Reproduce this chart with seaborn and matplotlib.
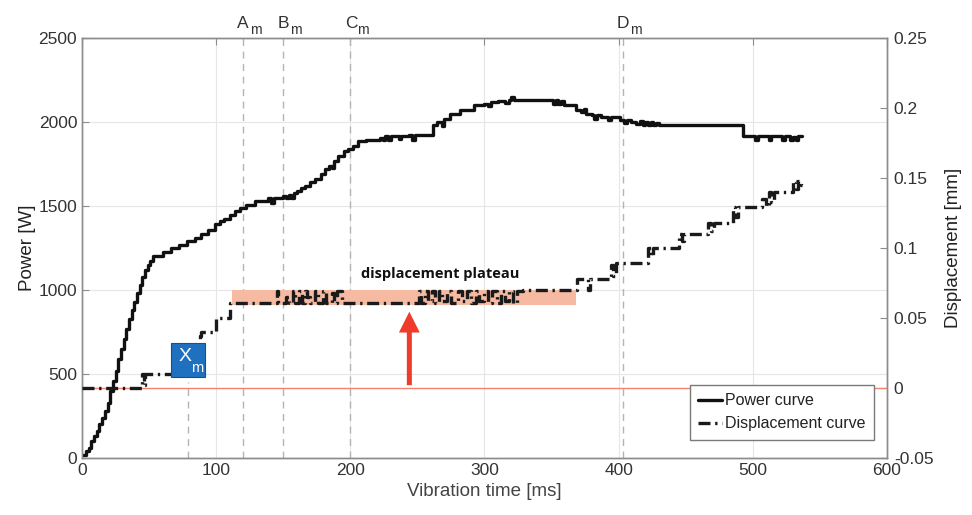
import numpy as np
import matplotlib
matplotlib.use('Agg')
from matplotlib import pyplot as plt
import seaborn as sns

'''Power and displacement curves versus vibration time, with marker instants.'''

# power curve [ms], [W]
power_time = [0, 3, 5, 7, 9, 11, 13, 15, 17, 19,
              21, 23, 25, 27, 29, 31, 33, 35, 37, 39,
              41, 43, 45, 47, 49, 51, 53, 60, 66, 72,
              78, 84, 89, 94, 99, 103, 106, 110, 114, 118,
              122, 129, 139, 141, 143, 150, 152, 154, 156, 158,
              160, 163, 166, 170, 174, 178, 181, 184, 186, 188,
              191, 195, 198, 202, 206, 212, 222, 224, 226, 228,
              230, 236, 238, 244, 246, 248, 260, 262, 265, 268,
              270, 274, 282, 292, 300, 303, 305, 310, 315, 318,
              320, 322, 349, 351, 353, 355, 357, 359, 368, 372,
              374, 376, 380, 382, 384, 387, 392, 394, 401, 404,
              406, 409, 413, 416, 418, 420, 422, 424, 426, 428,
              430, 493, 502, 504, 512, 514, 522, 524, 528, 530,
              532, 534, 537]
power_watts = [15, 40, 60, 100, 130, 160, 200, 240, 280, 330,
               400, 460, 520, 590, 650, 710, 770, 830, 880, 930,
               980, 1030, 1080, 1120, 1150, 1175, 1200, 1225, 1250, 1270,
               1290, 1310, 1335, 1360, 1390, 1410, 1420, 1445, 1470, 1490,
               1505, 1530, 1545, 1520, 1550, 1560, 1545, 1565, 1550, 1575,
               1590, 1605, 1620, 1640, 1660, 1690, 1720, 1740, 1725, 1770,
               1800, 1825, 1840, 1860, 1885, 1895, 1905, 1890, 1915, 1895,
               1915, 1900, 1915, 1920, 1895, 1920, 1920, 1980, 2000, 1975,
               2020, 2050, 2070, 2100, 2110, 2095, 2120, 2125, 2115, 2130,
               2150, 2130, 2130, 2110, 2130, 2110, 2125, 2100, 2070, 2060,
               2075, 2050, 2040, 2020, 2040, 2030, 2010, 2030, 2012, 1995,
               2012, 2000, 1990, 2005, 1980, 2000, 1980, 2000, 1980, 1995,
               1980, 1915, 1890, 1915, 1890, 1915, 1890, 1915, 1890, 1910,
               1890, 1915, 1915]

# displacement curve [ms], [mm]
disp_time = [0, 44, 45, 46, 47, 68, 75, 82, 88, 89,
             98, 100, 110, 143, 145, 146, 150, 152, 154, 157,
             159, 162, 164, 166, 168, 170, 174, 176, 180, 182,
             186, 188, 190, 194, 249, 251, 253, 256, 258, 261,
             263, 266, 268, 272, 275, 280, 283, 287, 290, 294,
             296, 300, 303, 306, 309, 312, 315, 318, 321, 324,
             329, 369, 377, 379, 394, 396, 398, 422, 424, 426,
             445, 447, 449, 467, 469, 471, 485, 487, 489, 507,
             510, 512, 514, 516, 530, 532, 534, 536, 537]
disp_mm = [0.0, 0.0, 0.01, 0.002, 0.01, 0.01, 0.02, 0.03, 0.037, 0.04,
           0.04, 0.05, 0.061, 0.061, 0.069, 0.061, 0.061, 0.065, 0.061, 0.069,
           0.061, 0.069, 0.061, 0.069, 0.065, 0.061, 0.069, 0.061, 0.069, 0.061,
           0.068, 0.061, 0.069, 0.061, 0.061, 0.069, 0.061, 0.069, 0.062, 0.069,
           0.061, 0.069, 0.062, 0.069, 0.061, 0.069, 0.062, 0.069, 0.061, 0.069,
           0.062, 0.069, 0.061, 0.069, 0.061, 0.069, 0.062, 0.069, 0.061, 0.069,
           0.07, 0.078, 0.07, 0.078, 0.088, 0.08, 0.089, 0.1, 0.094, 0.1,
           0.11, 0.105, 0.11, 0.118, 0.112, 0.118, 0.129, 0.122, 0.129, 0.135,
           0.13, 0.14, 0.133, 0.14, 0.148, 0.142, 0.148, 0.145, 0.148]

# marker instants [ms]
marker_names = ['A', 'B', 'C', 'D']
marker_times = [120, 150, 200, 403]
xm_time = 79

plateau_start, plateau_end = 112, 368
plateau_low, plateau_high = 0.059, 0.07

sns.set_style('white')
plt.rcParams['font.family'] = ['Liberation Sans', 'DejaVu Sans']

spine_col = '#8c8c8c'
text_col = '#333333'

fig = plt.figure(figsize=(9.72, 5.15), dpi=100)
ax = fig.add_axes([0.0844, 0.1107, 0.828, 0.8155])
ax2 = ax.twinx()

# reference lines, labels above the frame as letter + subscript m
for name, t in zip(marker_names, marker_times):
	ax.axvline(t, color='#b4b4b4', ls=(0, (5, 4)), lw=1, zorder=1)
	ax.annotate(name, xy=(t, 1.0), xycoords=ax.get_xaxis_transform(),
	            xytext=(-4, 5), textcoords='offset points', ha='left', va='bottom',
	            fontsize=12.5, color=text_col)
	ax.annotate('m', xy=(t, 1.0), xycoords=ax.get_xaxis_transform(),
	            xytext=(5, 1), textcoords='offset points', ha='left', va='bottom',
	            fontsize=10, color=text_col)
ax.plot([xm_time, xm_time], [0, 450], color='#b4b4b4', ls=(0, (5, 4)), lw=1, zorder=1)

sns.lineplot(x=power_time, y=power_watts, ax=ax, color='#111111', lw=2.4,
             drawstyle='steps-post', errorbar=None, zorder=3)
power_line = ax.lines[-1]

ax.set_xlim(0, 600)
ax.set_ylim(0, 2500)
ax.set_xticks(np.arange(0, 601, 100))
ax.set_yticks(np.arange(0, 2501, 500))
ax.grid(True, color='#e6e6e6', lw=0.8)
ax.set_axisbelow(True)
ax.set_xlabel('Vibration time [ms]', fontsize=13.5, color='#444444', labelpad=4)
ax.set_ylabel('Power [W]', fontsize=13.5, color='#222222', labelpad=2)

# displacement side
ax2.axhline(0, color='#f2836f', lw=1, zorder=1)
ax2.fill_between([plateau_start, plateau_end], plateau_low, plateau_high,
                 color='#f6b9a2', lw=0, zorder=1)
sns.lineplot(x=disp_time, y=disp_mm, ax=ax2, color='#1a1a1a', lw=2.4,
             linestyle=(0, (3.6, 1.4, 0.7, 1.4)), drawstyle='steps-post',
             errorbar=None, zorder=3)
disp_line = ax2.lines[-1]
ax2.set_ylim(-0.05, 0.25)
ax2.set_yticks([-0.05, 0, 0.05, 0.1, 0.15, 0.2, 0.25])
ax2.set_yticklabels(['-0.05', '0', '0.05', '0.1', '0.15', '0.2', '0.25'])
ax2.set_ylabel('Displacement [mm]', fontsize=13.5, color='#222222', labelpad=8)
ax2.grid(False)

ax2.text(267, 0.0815, 'displacement plateau', ha='center', va='center',
         fontsize=10.5, fontweight='bold', family=['Open Sans', 'DejaVu Sans'], color='#111111')
ax2.annotate('', xy=(244, 0.0545), xytext=(244, 0.002),
             arrowprops=dict(width=3.6, headwidth=15, headlength=15, color='#ee3b2b',
                             shrink=0, lw=0), zorder=4)

# Xm box (on the displacement axes so it covers the curve)
ax2.add_patch(plt.Rectangle((66.5, 0.0078), 25.3, 0.0244, facecolor='#1f70bf',
                            edgecolor='#1d4f86', lw=0.8, zorder=5))
ax2.text(76.5, 0.0225, 'X', ha='center', va='center', fontsize=14,
         color='white', zorder=6)
ax2.text(85.5, 0.0145, 'm', ha='center', va='center', fontsize=10.5,
         color='white', zorder=6)

for a in (ax, ax2):
	for s in a.spines.values():
		s.set_color(spine_col)
		s.set_linewidth(1)
	a.tick_params(direction='in', length=5, width=0.8, color=spine_col,
	              labelsize=12.5, labelcolor=text_col)
ax.tick_params(top=True, right=False)
ax2.tick_params(right=True, pad=5)

leg = ax2.legend([power_line, disp_line], ['Power curve', 'Displacement curve'],
                 loc='lower right', bbox_to_anchor=(0.988, 0.035), fontsize=11.5,
                 frameon=True, fancybox=False, edgecolor='#7a7a7a', framealpha=1,
                 handlelength=1.5, handletextpad=0.15, borderpad=0.55, labelspacing=0.5,
                 borderaxespad=0.2)
leg.get_frame().set_linewidth(1)
for t in leg.get_texts():
	t.set_color('#222222')

plt.savefig('out.png', dpi=100)
